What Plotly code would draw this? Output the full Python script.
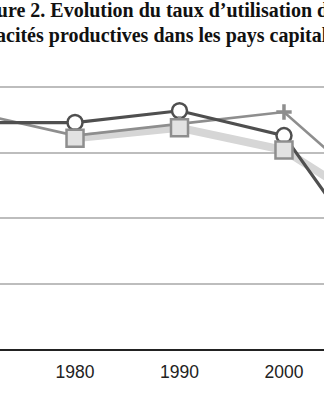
import plotly.graph_objects as go

# Data
years_dark = [1970, 1980, 1990, 2000, 2010]
vals_dark = [77.3, 77.3, 78.2, 76.3, 65.1]

years_mid = [1970, 1980, 1990, 2000, 2010]
vals_mid = [78.1, 76.3, 77.2, 78.1, 71.1]

years_light = [1980, 1990, 2000, 2010]
vals_light = [76.1, 76.9, 75.2, 70.1]

title_line1 = "Figure 2. Evolution du taux d\u2019utilisation des"
title_line2 = "capacités productives dans les pays capitalistes"
tick_years = [1970, 1980, 1990, 2000, 2010]
tick_labels = [str(y) for y in tick_years]

W, H = 324, 400
T, B = 61, 51
PH = H - T - B
DARK = "#4f4f4f"
MID = "#8e8e8e"
LIGHT = "#d6d6d6"
TFS = 20

fig = go.Figure()
# lines
fig.add_trace(go.Scatter(x=years_light, y=vals_light, mode="lines",
                         line=dict(color=LIGHT, width=8), hoverinfo="skip"))
fig.add_trace(go.Scatter(x=years_mid, y=vals_mid, mode="lines",
                         line=dict(color=MID, width=2.6), hoverinfo="skip"))
fig.add_trace(go.Scatter(x=years_dark, y=vals_dark, mode="lines",
                         line=dict(color=DARK, width=3.2), hoverinfo="skip"))
# markers
fig.add_trace(go.Scatter(x=years_dark, y=vals_dark, mode="markers",
                         marker=dict(symbol="circle", size=15, color="white",
                                     line=dict(color=DARK, width=2.5))))
fig.add_trace(go.Scatter(x=years_mid, y=vals_mid, mode="markers",
                         marker=dict(symbol="cross-thin", size=11,
                                     line=dict(color=MID, width=3.5))))
fig.add_trace(go.Scatter(x=years_light, y=vals_light, mode="markers",
                         marker=dict(symbol="square", size=17, color="#e2e2e2",
                                     line=dict(color=MID, width=2.5))))

def ypx(px):
    # paper y for a pixel row measured from the top of the page
    return 1 + (T - px) / PH

fig.update_layout(
    width=W, height=H,
    margin=dict(l=0, r=0, t=T, b=B),
    paper_bgcolor="white", plot_bgcolor="white",
    showlegend=False,
    font=dict(family="Liberation Sans, Arial, sans-serif", color="#222222"),
    xaxis=dict(range=[1972.82, 2003.83], tickvals=tick_years, ticktext=tick_labels,
               showgrid=False, zeroline=False, showline=True, linecolor="#222222",
               linewidth=2, ticks="", ticklabelstandoff=6,
               tickfont=dict(size=17.5, color="#222222")),
    yaxis=dict(range=[60, 82], dtick=5, tick0=60, showgrid=True, gridcolor="#bdbdbd",
               gridwidth=1.5, zeroline=False, showticklabels=False, ticks=""),
    annotations=[
        dict(text="<b>" + title_line1 + "</b>", xref="paper", yref="paper",
             x=-33 / W, y=ypx(11), xanchor="left", yanchor="middle",
             showarrow=False, font=dict(family="Liberation Serif, Times New Roman, serif",
                                        size=TFS, color="#111111")),
        dict(text="<b>" + title_line2 + "</b>", xref="paper", yref="paper",
             x=-36 / W, y=ypx(36), xanchor="left", yanchor="middle",
             showarrow=False, font=dict(family="Liberation Serif, Times New Roman, serif",
                                        size=TFS, color="#111111")),
    ],
)

fig.write_html("out.html")
